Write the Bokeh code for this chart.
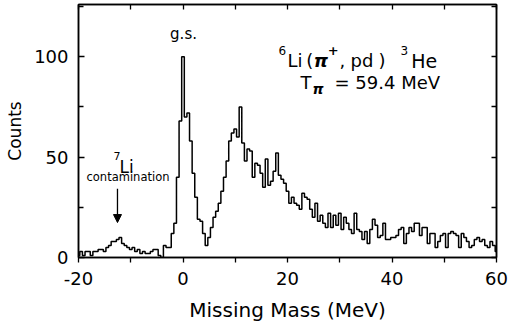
from bokeh.plotting import figure
from bokeh.models import Range1d, LinearAxis, FixedTicker, Label, Arrow, NormalHead
from bokeh.embed import file_html
from bokeh.resources import INLINE

# Missing-mass histogram, 0.5 MeV bins centred from -20 to 60 MeV
first_center = -20.0
bin_width = 0.5
counts = [
    1, 3, 1, 3, 3, 1, 3, 3, 4, 4, 3, 5, 6, 8, 8, 9, 10, 7, 6, 5,            # -20 .. -10.5
    4, 5, 3, 4, 2, 3, 2, 2, 3, 4, 4, 1, 0, 6, 5, 5, 12, 17, 40, 68,         # -10 .. -0.5
    100, 70, 72, 58, 42, 30, 19, 18, 12, 6, 10, 15, 20, 23, 27, 33, 40, 48, 58, 62,  # 0 .. 9.5
    64, 60, 75, 57, 48, 54, 53, 40, 47, 46, 42, 35, 49, 36, 38, 43, 52, 41, 39, 37,  # 10 .. 19.5
    33, 27, 30, 27, 26, 24, 32, 30, 29, 24, 20, 27, 18, 21, 17, 15, 22, 15, 21, 16,  # 20 .. 29.5
    22, 14, 20, 17, 14, 12, 22, 14, 13, 9, 13, 7, 14, 19, 16, 10, 11, 17, 9, 9,      # 30 .. 39.5
    10, 10, 11, 14, 15, 7, 12, 15, 13, 17, 17, 11, 15, 15, 7, 12, 12, 5, 8, 11,      # 40 .. 49.5
    12, 5, 12, 13, 12, 11, 5, 12, 10, 8, 5, 6, 9, 10, 8, 9, 6, 5, 8, 6, 3,           # 50 .. 60
]
centers = [first_center + bin_width * i for i in range(len(counts))]

x_major = [-20, 0, 20, 40, 60]
x_minor = [-10, 10, 30, 50]
y_major = [0, 50, 100]
y_minor = [25, 75, 125]

FONT = "DejaVu Sans"

p = figure(width=508, height=325,
           x_range=Range1d(-20, 60), y_range=Range1d(0, 126),
           output_backend="svg", toolbar_location=None,
           min_border_left=78, min_border_right=12,
           min_border_top=4, min_border_bottom=68,
           background_fill_color="white", border_fill_color="white")
p.grid.visible = False
p.outline_line_color = "black"
p.outline_line_width = 1.5

# bottom axis
xa = p.xaxis[0]
xa.ticker = FixedTicker(ticks=x_major, minor_ticks=x_minor)
xa.major_label_overrides = {-20: "-20"}
xa.major_tick_in = 0
xa.major_tick_out = 5
xa.minor_tick_in = 0
xa.minor_tick_out = 5
xa.axis_line_width = 1.5
xa.major_tick_line_width = 1.3
xa.minor_tick_line_width = 1.3
xa.major_label_text_font = FONT
xa.major_label_text_font_size = "18px"
xa.major_label_text_color = "black"
xa.major_label_standoff = 9
xa.axis_label = "Missing Mass (MeV)"
xa.axis_label_text_font = FONT
xa.axis_label_text_font_size = "20px"
xa.axis_label_text_font_style = "normal"
xa.axis_label_text_color = "black"
xa.axis_label_standoff = 10

# left axis
ya = p.yaxis[0]
ya.ticker = FixedTicker(ticks=y_major, minor_ticks=y_minor)
ya.major_tick_in = 6
ya.major_tick_out = 0
ya.minor_tick_in = 5
ya.minor_tick_out = 0
ya.axis_line_width = 1.5
ya.major_tick_line_width = 1.3
ya.minor_tick_line_width = 1.3
ya.major_label_text_font = FONT
ya.major_label_text_font_size = "18px"
ya.major_label_text_color = "black"
ya.major_label_standoff = 10
ya.axis_label = "Counts"
ya.axis_label_text_font = FONT
ya.axis_label_text_font_size = "17px"
ya.axis_label_text_font_style = "normal"
ya.axis_label_text_color = "black"
ya.axis_label_standoff = 6

# top and right frame ticks, pointing inward
top = LinearAxis(ticker=FixedTicker(ticks=[], minor_ticks=x_minor + x_major),
                 major_label_text_font_size="0px",
                 minor_tick_in=5, minor_tick_out=0, major_tick_in=0, major_tick_out=0,
                 axis_line_width=1.5, minor_tick_line_width=1.3)
right = LinearAxis(ticker=FixedTicker(ticks=[], minor_ticks=y_minor + y_major),
                   major_label_text_font_size="0px",
                   minor_tick_in=5, minor_tick_out=0, major_tick_in=0, major_tick_out=0,
                   axis_line_width=1.5, minor_tick_line_width=1.3)
p.add_layout(top, "above")
p.add_layout(right, "right")

# histogram
p.step(x=centers, y=counts, mode="center", line_color="black", line_width=1.5)

def label(x, y, text, size, align="left", baseline="alphabetic", style="normal"):
    p.add_layout(Label(x=x, y=y, text=text, text_font=FONT, text_font_size=size,
                       text_align=align, text_baseline=baseline,
                       text_font_style=style, text_color="black"))

label(0.1, 111.4, "g.s.", "15px", align="center", baseline="middle")

# 7Li contamination marker
label(-13.3, 50.7, "7", "11px")
label(-12.15, 45.3, "Li", "17px")
label(-10.53, 40.3, "contamination", "11.5px", align="center", baseline="middle")
p.add_layout(Arrow(end=NormalHead(size=8, fill_color="black", line_color="black"),
                   x_start=-12.54, y_start=34.3, x_end=-12.54, y_end=17.4,
                   line_color="black", line_width=1.3))

# reaction: 6Li(pi+, pd) 3He
label(18.28, 103.0, "6", "12px")
label(20.0, 98.0, "Li", "18px")
label(23.6, 98.0, "(", "18px")
label(25.0, 98.0, "\u03c0", "18px", style="bold italic")
label(27.7, 103.0, "+", "13px", style="bold")
label(29.95, 98.0, ",", "18px")
label(32.06, 98.0, "pd", "18px")
label(37.4, 98.0, ")", "18px")
label(41.63, 103.0, "3", "12px")
label(43.7, 98.0, "He", "19px")

# beam energy
label(22.49, 87.06, "T", "18px")
label(24.78, 84.08, "\u03c0", "14px", style="bold italic")
label(29.0, 87.06, "= 59.4 MeV", "18px")

open("out.html", "w").write(file_html(p, INLINE))
